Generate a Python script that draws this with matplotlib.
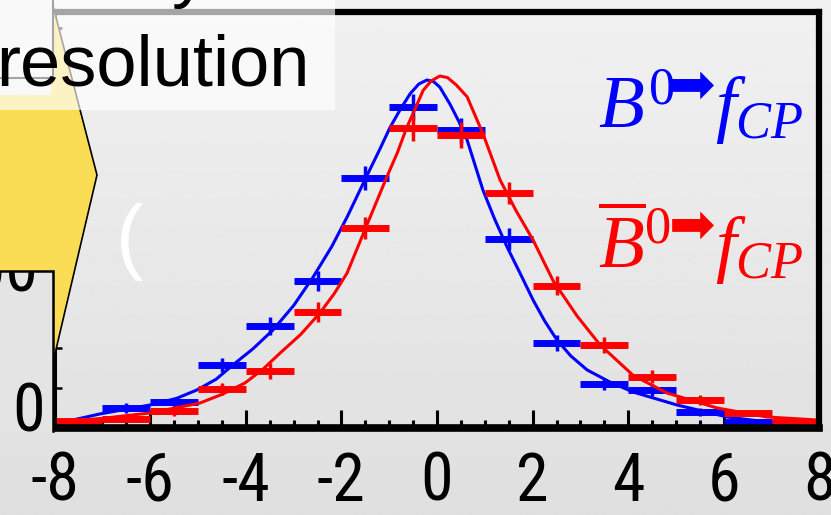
import numpy as np
import matplotlib
matplotlib.use("Agg")
import matplotlib.pyplot as plt
from matplotlib import font_manager
from matplotlib.font_manager import FontProperties
from matplotlib.patches import Polygon, Rectangle
from matplotlib.lines import Line2D

# ---- data -----------------------------------------------------------------
bin_edges = np.arange(-8, 9, 1)
bin_centers = (bin_edges[:-1] + bin_edges[1:]) / 2

# B0 -> f_CP tagged events per bin
b0_counts = [2.0, 12.5, 16.0, 39.4, 63.8, 91.9, 156.0, 200.6,
             186.0, 118.0, 53.0, 27.5, 23.8, 10.0, 3.8, 1.2]
b0_errors = [1.5, 3.0, 3.0, 4.5, 5.5, 6.5, 7.5, 8.0,
             8.0, 7.0, 5.0, 4.0, 3.5, 2.5, 1.5, 1.0]

# anti-B0 -> f_CP tagged events per bin
b0bar_counts = [4.4, 5.6, 10.6, 24.4, 35.6, 72.5, 125.0, 187.5,
                183.0, 147.0, 89.0, 52.0, 32.0, 17.5, 9.4, 3.8]
b0bar_errors = [1.5, 2.0, 3.0, 4.0, 5.0, 6.0, 7.0, 8.0,
                8.0, 7.0, 6.0, 5.0, 4.0, 3.0, 2.0, 1.5]

# fitted curves
b0_fit_t = [-7.99, -7.05, -6.00, -5.45, -5.02, -4.62, -4.27, -3.85, -3.43,
            -3.00, -2.59, -2.20, -1.88, -1.51, -1.20, -0.98, -0.75, -0.56,
            -0.38, -0.21, -0.07, 0.06, 0.27, 0.45, 0.63, 0.96, 1.20, 1.46,
            1.75, 2.01, 2.25, 2.51, 2.80, 3.14, 3.60, 4.10, 5.02, 6.07, 6.90, 7.97]
b0_fit_y = [2.5, 8.8, 14.4, 18.5, 23.8, 30.5, 39.4, 49.5, 61.3,
            76.5, 94.4, 113.5, 131.9, 155.0, 174.0, 188.0, 200.0, 209.0,
            215.0, 217.5, 216.5, 213.0, 202.5, 192.0, 180.0, 148.8, 131.0, 113.5,
            96.0, 80.0, 67.0, 55.0, 45.0, 36.3, 29.0, 22.5, 14.4, 6.9, 3.8, 1.9]

b0bar_fit_t = [-8.0, -7.0, -6.00, -4.96, -4.50, -4.02, -3.65, -3.28, -2.85,
               -2.45, -2.15, -1.88, -1.51, -1.05, -0.83, -0.63, -0.45, -0.29,
               -0.12, 0.06, 0.22, 0.40, 0.63, 0.96, 1.32, 1.65, 2.01, 2.43,
               2.93, 3.41, 4.10, 4.81, 5.86, 6.90, 7.95]
b0bar_fit_y = [3.8, 6.0, 9.4, 15.6, 21.0, 28.1, 36.5, 46.9, 58.5,
               71.9, 84.0, 96.9, 123.8, 156.9, 172.0, 188.0, 200.0, 211.0,
               217.0, 220.0, 219.0, 214.5, 207.0, 184.0, 155.0, 136.0, 117.5, 92.0,
               70.0, 52.0, 33.0, 21.9, 12.5, 6.9, 5.0]

xtick_values = [-8, -6, -4, -2, 0, 2, 4, 6, 8]
xtick_labels = ["-8", "-6", "-4", "-2", "0", "2", "4", "6", "8"]

# ---- fonts ----------------------------------------------------------------
entries = font_manager.fontManager.ttflist
names = {f.name for f in entries}
narrow_family = None
for cand in ("Liberation Sans Narrow", "Roboto Condensed", "Open Sans Condensed",
             "Arial Narrow"):
    if cand in names:
        narrow_family = cand
        break

if narrow_family is not None:
    def label_fp(size):
        return FontProperties(family=narrow_family, size=size * 1.08)
elif any(f.name == "DejaVu Sans" and "condensed" in str(f.stretch) for f in entries):
    def label_fp(size):
        return FontProperties(family="DejaVu Sans", stretch="condensed", size=size)
else:
    def label_fp(size):
        return FontProperties(family="Liberation Sans", size=size)

plt.rcParams["font.family"] = ["Liberation Sans", "DejaVu Sans"]
plt.rcParams["axes.unicode_minus"] = False
plt.rcParams["mathtext.fontset"] = "custom"
plt.rcParams["mathtext.rm"] = "Liberation Serif"
plt.rcParams["mathtext.it"] = "Liberation Serif:italic"
plt.rcParams["mathtext.bf"] = "Liberation Serif:bold"

W, H = 831, 515


def fx(px):
    return np.asarray(px, dtype=float) / W


def fy(py):
    return 1 - np.asarray(py, dtype=float) / H


fig = plt.figure(figsize=(W / 100, H / 100), dpi=100)

# soft grey slide background
bg = fig.add_axes([0, 0, 1, 1], zorder=-10)
grad = np.linspace(0.945, 0.875, 256)[:, None]
bg.imshow(grad, cmap="gray", vmin=0, vmax=1, aspect="auto",
          extent=[0, 1, 0, 1], origin="upper")
bg.axis("off")

# ---- main plot --------------------------------------------------------------
ax = fig.add_axes([fx(54.6), fy(428), (819.4 - 54.6) / W, (428 - 12) / H], zorder=0)
ax.patch.set_alpha(0)
ax.set_xlim(-8, 8)
ax.set_ylim(0, 260)

blue, red = "#0000ff", "#ff0000"

ax.plot(b0_fit_t, b0_fit_y, color=blue, lw=2.2, zorder=2)
ax.errorbar(bin_centers, b0_counts, xerr=0.5, fmt="none", ecolor=blue,
            elinewidth=5, capsize=0, zorder=3)
ax.errorbar(bin_centers, b0_counts, yerr=b0_errors, fmt="none", ecolor=blue,
            elinewidth=2.5, capsize=0, zorder=3)

ax.plot(b0bar_fit_t, b0bar_fit_y, color=red, lw=2.2, zorder=4)
ax.errorbar(bin_centers, b0bar_counts, xerr=0.5, fmt="none", ecolor=red,
            elinewidth=5, capsize=0, zorder=5)
ax.errorbar(bin_centers, b0bar_counts, yerr=b0bar_errors, fmt="none", ecolor=red,
            elinewidth=2.5, capsize=0, zorder=5)

for side, lw in (("bottom", 5.5), ("top", 4.5), ("right", 4.5), ("left", 2.2)):
    ax.spines[side].set_linewidth(lw)
    ax.spines[side].set_color("black")
    ax.spines[side].set_zorder(6)

ax.set_xticks(xtick_values)
ax.set_xticklabels(xtick_labels)
ax.set_xticks(np.arange(-8, 8.01, 0.5), minor=True)
ax.tick_params(axis="x", which="major", direction="in", length=13, width=2.2,
               pad=16.5, top=False)
ax.tick_params(axis="x", which="minor", direction="in", length=6, width=2.2, top=False)
for lbl in ax.get_xticklabels():
    lbl.set_fontproperties(label_fp(44))
ax.set_yticks([0, 100, 200])
ax.set_yticks(np.arange(0, 260, 25), minor=True)
ax.tick_params(axis="y", which="major", direction="in", length=9, width=1.8,
               labelleft=False, right=False)
ax.tick_params(axis="y", which="minor", direction="in", length=5, width=1.8,
               right=False)

# ---- legend text ---------------------------------------------------------
fig.text(fx(598), fy(128), r"$B^{0}$", fontsize=54, color=blue,
         ha="left", va="baseline", zorder=6)
fig.text(fx(669), fy(88), "\u27a1", fontsize=40, family="DejaVu Sans",
         color=blue, ha="left", va="center", zorder=6)
fig.text(fx(715), fy(128), r"$f_{CP}$", fontsize=54, color=blue,
         ha="left", va="baseline", zorder=6)

fig.text(fx(598), fy(268), r"$\overline{B}^{0}$", fontsize=54, color=red,
         ha="left", va="baseline", zorder=6)
fig.text(fx(669), fy(228), "\u27a1", fontsize=40, family="DejaVu Sans",
         color=red, ha="left", va="center", zorder=6)
fig.text(fx(715), fy(268), r"$f_{CP}$", fontsize=54, color=red,
         ha="left", va="baseline", zorder=6)

# ---- slide decorations on top of the plot ---------------------------------
fig.text(fx(116), fy(242), "(", fontsize=60, family="Liberation Sans",
         color="white", ha="left", va="center", zorder=4)

arrow_x = [-5, 51, 51, 97, 54, -5]
arrow_y = [95, 95, -2, 175, 358, 358]
fig.add_artist(Polygon(np.column_stack([fx(arrow_x), fy(arrow_y)]),
                       closed=True, transform=fig.transFigure,
                       facecolor="#fadc55", edgecolor="none", zorder=5))
fig.add_artist(Line2D(fx([51, 97, 54]), fy([-2, 175, 358]),
                      transform=fig.transFigure, color="black", lw=1.2, zorder=5))

upper_box = Rectangle((fx(-5), fy(78)), (53 + 5) / W, (78 + 5) / H,
                      transform=fig.transFigure, facecolor="#f0f0f0",
                      edgecolor="black", lw=1.5, zorder=6)
fig.add_artist(upper_box)

# grey panel left of the plot, below the arrow
lower_box = Rectangle((fx(-5), fy(433)), (53 + 5) / W, (433 - 271) / H,
                      transform=fig.transFigure, facecolor="#e4e4e4",
                      edgecolor="none", zorder=6)
fig.add_artist(lower_box)
fig.add_artist(Line2D(fx([-5, 53, 53]), fy([271, 271, 431]),
                      transform=fig.transFigure, color="black", lw=1.8,
                      solid_joinstyle="miter", zorder=6))

fig.text(fx(29), fy(413), "0", fontproperties=label_fp(44), ha="center",
         va="center", zorder=7)
hundred = fig.text(fx(39), fy(274), "100", fontproperties=label_fp(44),
                   ha="right", va="center", zorder=7)
hundred.set_clip_path(lower_box)

fig.add_artist(Rectangle((fx(-5), fy(110)), (335 + 5) / W, (110 + 5) / H,
                         transform=fig.transFigure, facecolor="white",
                         alpha=0.65, edgecolor="none", zorder=8))

fig.text(fx(-4), fy(85), "resolution", fontsize=52, family="Liberation Sans",
         color="black", ha="left", va="baseline", zorder=9)
fig.text(fx(172), fy(-6), "y", fontsize=52, family="Liberation Sans",
         color="black", ha="left", va="baseline", zorder=9)

fig.savefig("out.png", dpi=100)
